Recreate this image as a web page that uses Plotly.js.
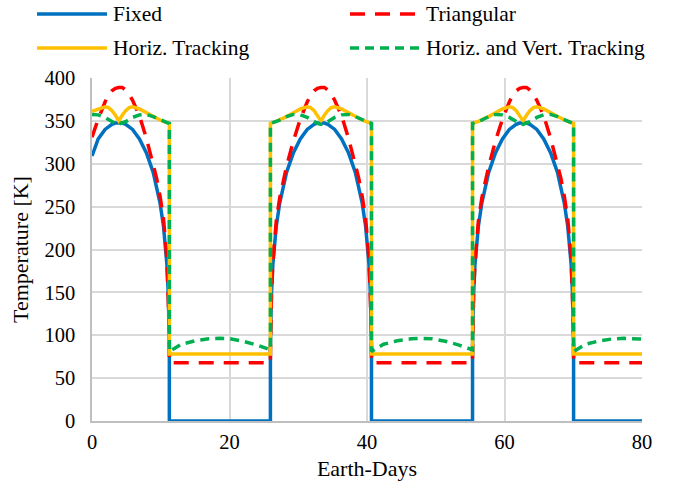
<!DOCTYPE html>
<html>
<head>
<meta charset="utf-8">
<script src="https://cdn.plot.ly/plotly-3.0.1.min.js"></script>
</head>
<body style="margin:0">
<div id="chart"></div>
<script>
// Earth-days (shared x column)
var days = [
  0, 0.9, 1.9, 2.4, 2.9, 3.4, 3.9, 4.4, 4.9, 5.4, 5.9, 6.9, 7.9, 8.9, 9.4, 9.9, 10.4, 10.9, 11.1, 11.2, 11.25,
  11.25, 13, 15, 17, 18.6, 20, 22, 24, 25.95,
  25.95, 26.0, 26.1, 26.3, 26.8, 27.3, 27.8, 28.3, 29.3, 30.3, 31.3, 31.8, 32.3, 32.8, 33.3, 33.8, 34.3, 34.8, 35.3, 36.3, 37.3, 38.3, 38.8, 39.3, 39.8, 40.3, 40.5, 40.6, 40.65,
  40.65, 42.4, 44.4, 46.4, 48, 49.4, 51.4, 53.4, 55.35,
  55.35, 55.4, 55.5, 55.7, 56.2, 56.7, 57.2, 57.7, 58.7, 59.7, 60.7, 61.2, 61.7, 62.2, 62.7, 63.2, 63.7, 64.2, 64.7, 65.7, 66.7, 67.7, 68.2, 68.7, 69.2, 69.7, 69.9, 70.0, 70.05,
  70.05, 71.8, 73.8, 75.8, 77.4, 78.8, 80
];
var fixedK = [
  309, 329, 340, 343.5, 346, 347.5, 348, 347.5, 346, 343.5, 340, 329, 313, 290, 274, 254, 227, 182, 147, 112, 85,
  0, 0, 0, 0, 0, 0, 0, 0, 0,
  85, 112, 147, 182, 227, 254, 274, 290, 313, 329, 340, 343.5, 346, 347.5, 348, 347.5, 346, 343.5, 340, 329, 313, 290, 274, 254, 227, 182, 147, 112, 85,
  0, 0, 0, 0, 0, 0, 0, 0, 0,
  85, 112, 147, 182, 227, 254, 274, 290, 313, 329, 340, 343.5, 346, 347.5, 348, 347.5, 346, 343.5, 340, 329, 313, 290, 274, 254, 227, 182, 147, 112, 85,
  0, 0, 0, 0, 0, 0, 0
];
var triangularK = [
  331, 352, 372, 380, 385, 388, 389, 389, 386, 381, 374, 356, 330, 300, 283, 262, 236, 188, 150, 115, 80,
  68, 68, 68, 68, 68, 68, 68, 68, 68,
  80, 112, 148, 185, 233, 260, 281, 297, 327, 352, 372, 380, 385, 388, 389, 389, 386, 381, 374, 356, 330, 300, 283, 262, 236, 188, 150, 115, 80,
  68, 68, 68, 68, 68, 68, 68, 68, 68,
  80, 112, 148, 185, 233, 260, 281, 297, 327, 352, 372, 380, 385, 388, 389, 389, 386, 381, 374, 356, 330, 300, 283, 262, 236, 188, 150, 115, 80,
  68, 68, 68, 68, 68, 68, 68
];
var horizK = [
  361, 364, 366.5, 365.5, 362, 356.5, 350, 356.5, 362, 365.5, 366.5, 364, 359.5, 355, 353, 351, 349.5, 348, 347.5, 347, 347,
  78, 78, 78, 78, 78, 78, 78, 78, 78,
  347, 347, 347.5, 348, 349.5, 351, 353, 355, 359.5, 364, 366.5, 365.5, 362, 356.5, 350, 356.5, 362, 365.5, 366.5, 364, 359.5, 355, 353, 351, 349.5, 348, 347.5, 347, 347,
  78, 78, 78, 78, 78, 78, 78, 78, 78,
  347, 347, 347.5, 348, 349.5, 351, 353, 355, 359.5, 364, 366.5, 365.5, 362, 356.5, 350, 356.5, 362, 365.5, 366.5, 364, 359.5, 355, 353, 351, 349.5, 348, 347.5, 347, 347,
  78, 78, 78, 78, 78, 78, 78
];
var horizVertK = [
  357.5, 357, 354, 351.5, 349, 347, 346, 347, 349, 351.5, 354, 357, 357.5, 355, 353, 351, 349.5, 348, 347.5, 347, 347,
  81, 89.5, 93.5, 95.8, 96.4, 96, 93, 88.5, 83,
  347, 347, 347.5, 348, 349.5, 351, 353, 355, 357.5, 357, 354, 351.5, 349, 347, 346, 347, 349, 351.5, 354, 357, 357.5, 355, 353, 351, 349.5, 348, 347.5, 347, 347,
  81, 89.5, 93.5, 95.8, 96.4, 96, 93, 88.5, 83,
  347, 347, 347.5, 348, 349.5, 351, 353, 355, 357.5, 357, 354, 351.5, 349, 347, 346, 347, 349, 351.5, 354, 357, 357.5, 355, 353, 351, 349.5, 348, 347.5, 347, 347,
  81, 89.5, 93.5, 95.8, 96.4, 96, 95.5
];
var seriesNames = ['Fixed', 'Triangular', 'Horiz. Tracking', 'Horiz. and Vert. Tracking'];
var xTicks = [0, 20, 40, 60, 80];
var yTicks = [0, 50, 100, 150, 200, 250, 300, 350, 400];

var colors = ['#0070C0', '#FF0000', '#FFC000', '#00B050'];
var dashes = ['solid', '15px,10px', 'solid', '9px,6px'];
var ys = [fixedK, triangularK, horizK, horizVertK];

var FONT = 'Times New Roman';
var traces = ys.map(function (y, i) {
  return {
    type: 'scatter', mode: 'lines', x: days, y: y, name: seriesNames[i],
    line: {color: colors[i], width: 3.5, dash: dashes[i]},
    cliponaxis: false, showlegend: false, hoverinfo: 'skip'
  };
});

// legend drawn in paper coordinates (px -> paper)
var L = 92, R = 642, T = 78, B = 421;
function px(x) { return (x - L) / (R - L); }
function py(y) { return (B - y) / (B - T); }
var legRows = [14, 48];
var legCols = [37, 350];
var shapes = [], annotations = [];
seriesNames.forEach(function (n, i) {
  var cx = legCols[i % 2], cy = legRows[Math.floor(i / 2)];
  shapes.push({type: 'line', xref: 'paper', yref: 'paper', x0: px(cx), x1: px(cx + 70), y0: py(cy), y1: py(cy),
    line: {color: colors[i], width: 3.5, dash: dashes[i]}});
  annotations.push({xref: 'paper', yref: 'paper', x: px(cx + 74), y: py(cy), text: n, showarrow: false,
    xanchor: 'left', yanchor: 'middle', font: {family: FONT, size: 21.5, color: '#000'}});
});

var layout = {
  width: 681, height: 487,
  margin: {l: L, r: 681 - R, t: T, b: 487 - B},
  paper_bgcolor: '#fff', plot_bgcolor: '#fff',
  showlegend: false,
  xaxis: {
    range: [0, 80], tickvals: xTicks, ticktext: xTicks.map(String), ticks: '',
    showgrid: true, gridcolor: '#d9d9d9', gridwidth: 1.5,
    showline: true, linecolor: '#bfbfbf', linewidth: 1.5, zeroline: false,
    tickfont: {family: FONT, size: 20.5, color: '#000'}, ticklabelstandoff: 2,
    title: {text: 'Earth-Days', font: {family: FONT, size: 22, color: '#000'}, standoff: 8}
  },
  yaxis: {
    range: [0, 400], tickvals: yTicks, ticktext: yTicks.map(String), ticks: '',
    showgrid: true, gridcolor: '#d9d9d9', gridwidth: 1.5,
    showline: true, linecolor: '#bfbfbf', linewidth: 1.5, zeroline: false,
    tickfont: {family: FONT, size: 20.5, color: '#000'}, ticklabelstandoff: 11,
    title: {text: 'Temperature [K]', font: {family: FONT, size: 22, color: '#000'}, standoff: 10}
  },
  shapes: shapes,
  annotations: annotations
};
Plotly.newPlot('chart', traces, layout, {displayModeBar: false});
</script>
</body>
</html>
